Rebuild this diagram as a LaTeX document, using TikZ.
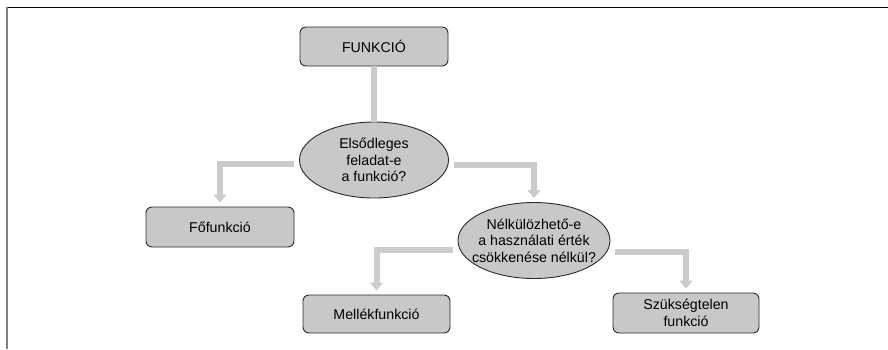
\documentclass[tikz,border=0pt]{standalone}
\usepackage{fontspec}
\setmainfont{Liberation Sans}
\usetikzlibrary{arrows.meta,shapes.geometric,calc}
\definecolor{boxfill}{HTML}{C8C8C8}
\definecolor{connc}{HTML}{CCCCCC}
\definecolor{edge}{HTML}{2A2A2A}
\tikzset{
  txt/.style={align=center, font=\fontsize{14.2}{16.5}\selectfont, inner sep=0pt},
  box/.style={txt, draw=edge, line width=0.9pt, fill=boxfill, rounded corners=6pt, minimum width=#1, minimum height=40pt},
  question/.style={draw=edge, line width=0.9pt, fill=boxfill, ellipse, inner sep=0pt},
  conn/.style={draw=connc, line width=6pt},
  connarrow/.style={conn, -{Triangle[width=13pt,length=8pt]}, shorten >=4pt, shorten <=5pt},
}
\begin{document}
\begin{tikzpicture}[x=1pt,y=-1pt]
\useasboundingbox (0,0) rectangle (888,349);
% frame
\draw[black, line width=1.6pt] (7,7.5) -- (888,7.5);
\draw[gray, line width=2pt] (7,7) -- (7,349);
% nodes
\node[box=148pt, minimum height=39pt] (f) at (374,46.5) {FUNKCIÓ};
\node[question, minimum width=149pt, minimum height=76pt] (e1) at (374,160) {};
\node[txt] (e1t) at (e1.center) {Elsődleges\\feladat-e\\a funkció?};
\node[box=148pt] (ff) at (220,227) {Főfunkció};
\node[question, minimum width=152pt, minimum height=76pt] (e2) at (534,240.5) {};
\node[txt] (e2t) at (e2.center) {Nélkülözhető-e\\a használati érték\\csökkenése nélkül?};
\node[box=147pt, minimum height=38pt] (m) at (376.5,314) {Mellékfunkció};
\node[box=146pt] (sz) at (686,313) {Szükségtelen\\funkció};
% connectors
\draw[conn] (f.south) -- (e1.north);
\draw[connarrow] ($(e1.west)+(0,4)$) -| (ff.north);
\draw[connarrow] ($(e1.east)+(0,5)$) -| (e2.north);
\draw[connarrow] ($(e2.west)+(0,9.5)$) -| (m.north);
\draw[connarrow] ($(e2.east)+(0,11.5)$) -| (sz.north);
\end{tikzpicture}
\end{document}
